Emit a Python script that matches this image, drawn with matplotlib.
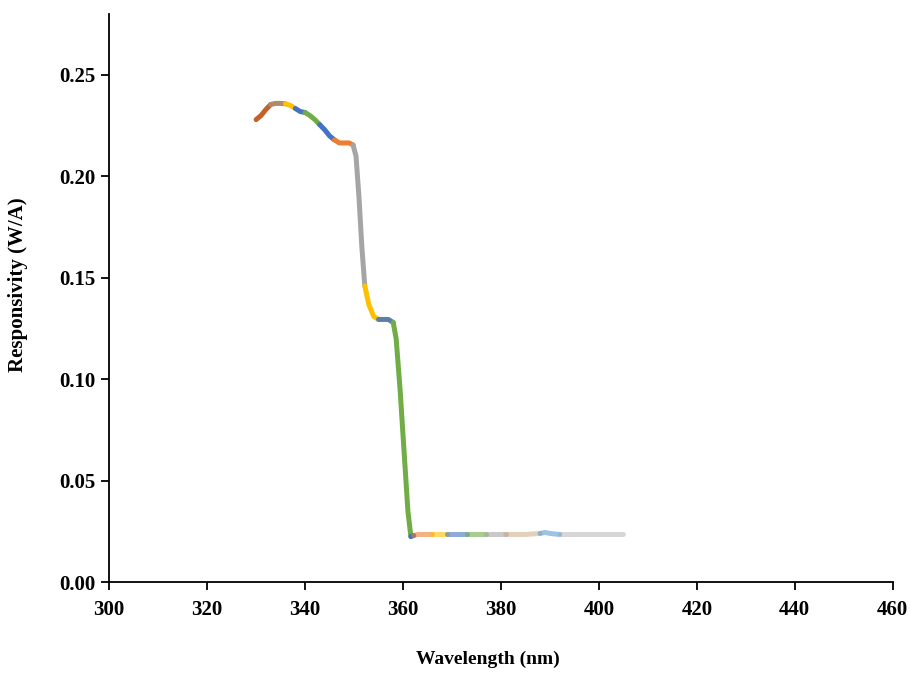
import numpy as np
import matplotlib.pyplot as plt

# wavelength (nm) and responsivity (W/A)
wavelength = [330, 331, 332, 333, 334, 335, 336, 337, 338, 339, 340, 341, 342, 343,
              344, 345, 346, 347, 348, 349, 349.8, 350.4, 351, 351.6, 352.2, 353, 354,
              355, 356, 357, 358, 358.6, 359.4, 360.2, 361, 361.6, 362.2, 363, 366,
              369, 373, 377, 381, 385, 388, 389, 390, 392, 396, 400, 405]
responsivity = [0.228, 0.230, 0.233, 0.2355, 0.236, 0.236, 0.2358, 0.235, 0.2335, 0.232,
                0.2315, 0.230, 0.228, 0.2255, 0.223, 0.220, 0.218, 0.2165, 0.2165, 0.2165,
                0.2155, 0.210, 0.190, 0.165, 0.146, 0.137, 0.131, 0.1295, 0.1295, 0.1295,
                0.128, 0.120, 0.095, 0.065, 0.035, 0.0225, 0.023, 0.0235, 0.0235,
                0.0235, 0.0235, 0.0235, 0.0235, 0.0235, 0.024, 0.0245, 0.024, 0.0235,
                0.0235, 0.0235, 0.0235]

# colour pieces along the curve: (start wavelength, end wavelength, colour, alpha)
pieces = [
    (330, 333, '#C0622A', 1.0),
    (333, 336, '#B08A6A', 1.0),
    (336, 338, '#FFC000', 1.0),
    (338, 340, '#4472C4', 1.0),
    (340, 343, '#70AD47', 1.0),
    (343, 346, '#4472C4', 1.0),
    (346, 349.8, '#ED7D31', 1.0),
    (349.8, 352.2, '#A5A5A5', 1.0),
    (352.2, 355, '#FFC000', 1.0),
    (355, 358, '#5B7FA8', 1.0),
    (358, 361.6, '#70AD47', 1.0),
    (361.6, 362.2, '#4472C4', 1.0),
    (362.2, 366, '#ED7D31', 0.6),
    (366, 369, '#FFC000', 0.6),
    (369, 373, '#4472C4', 0.6),
    (373, 377, '#70AD47', 0.6),
    (377, 381, '#A5A5A5', 0.6),
    (381, 388, '#C9A27A', 0.5),
    (388, 392, '#5B9BD5', 0.6),
    (392, 405, '#A5A5A5', 0.45),
]

wl = np.array(wavelength)
rs = np.array(responsivity)

plt.rcParams['font.family'] = 'Liberation Serif'
plt.rcParams['font.weight'] = 'bold'

fig = plt.figure(figsize=(9.10, 6.73), dpi=100)
ax = fig.add_axes([0.12, 0.135, 0.861, 0.844])

for start, end, col, a in pieces:
    m = (wl >= start) & (wl <= end)
    ax.plot(wl[m], rs[m], color=col, alpha=a, lw=3.6,
            solid_capstyle='round', solid_joinstyle='round')

ax.set_xlim(300, 460)
ax.set_ylim(0, 0.28)
ax.set_xticks(np.arange(300, 461, 20))
ax.set_yticks(np.arange(0, 0.251, 0.05))
ax.set_yticklabels(['%.2f' % v for v in np.arange(0, 0.251, 0.05)])

for s in ['top', 'right']:
    ax.spines[s].set_visible(False)
for s in ['left', 'bottom']:
    ax.spines[s].set_linewidth(1.3)

ax.tick_params(direction='out', length=6, width=1.3, labelsize=15)
ax.tick_params(axis='x', pad=7)
ax.tick_params(axis='y', pad=4)
for lab in ax.get_xticklabels() + ax.get_yticklabels():
    lab.set_fontweight('bold')

ax.set_xlabel('Wavelength (nm)', fontsize=14, fontweight='bold')
ax.set_ylabel('Responsivity (W/A)', fontsize=15, fontweight='bold')
ax.xaxis.set_label_coords(0.483, -0.136)
ax.yaxis.set_label_coords(-0.116, 0.523)
ax.xaxis.label.set_va('center')
ax.yaxis.label.set_va('center')

fig.savefig('out.png', dpi=100)
